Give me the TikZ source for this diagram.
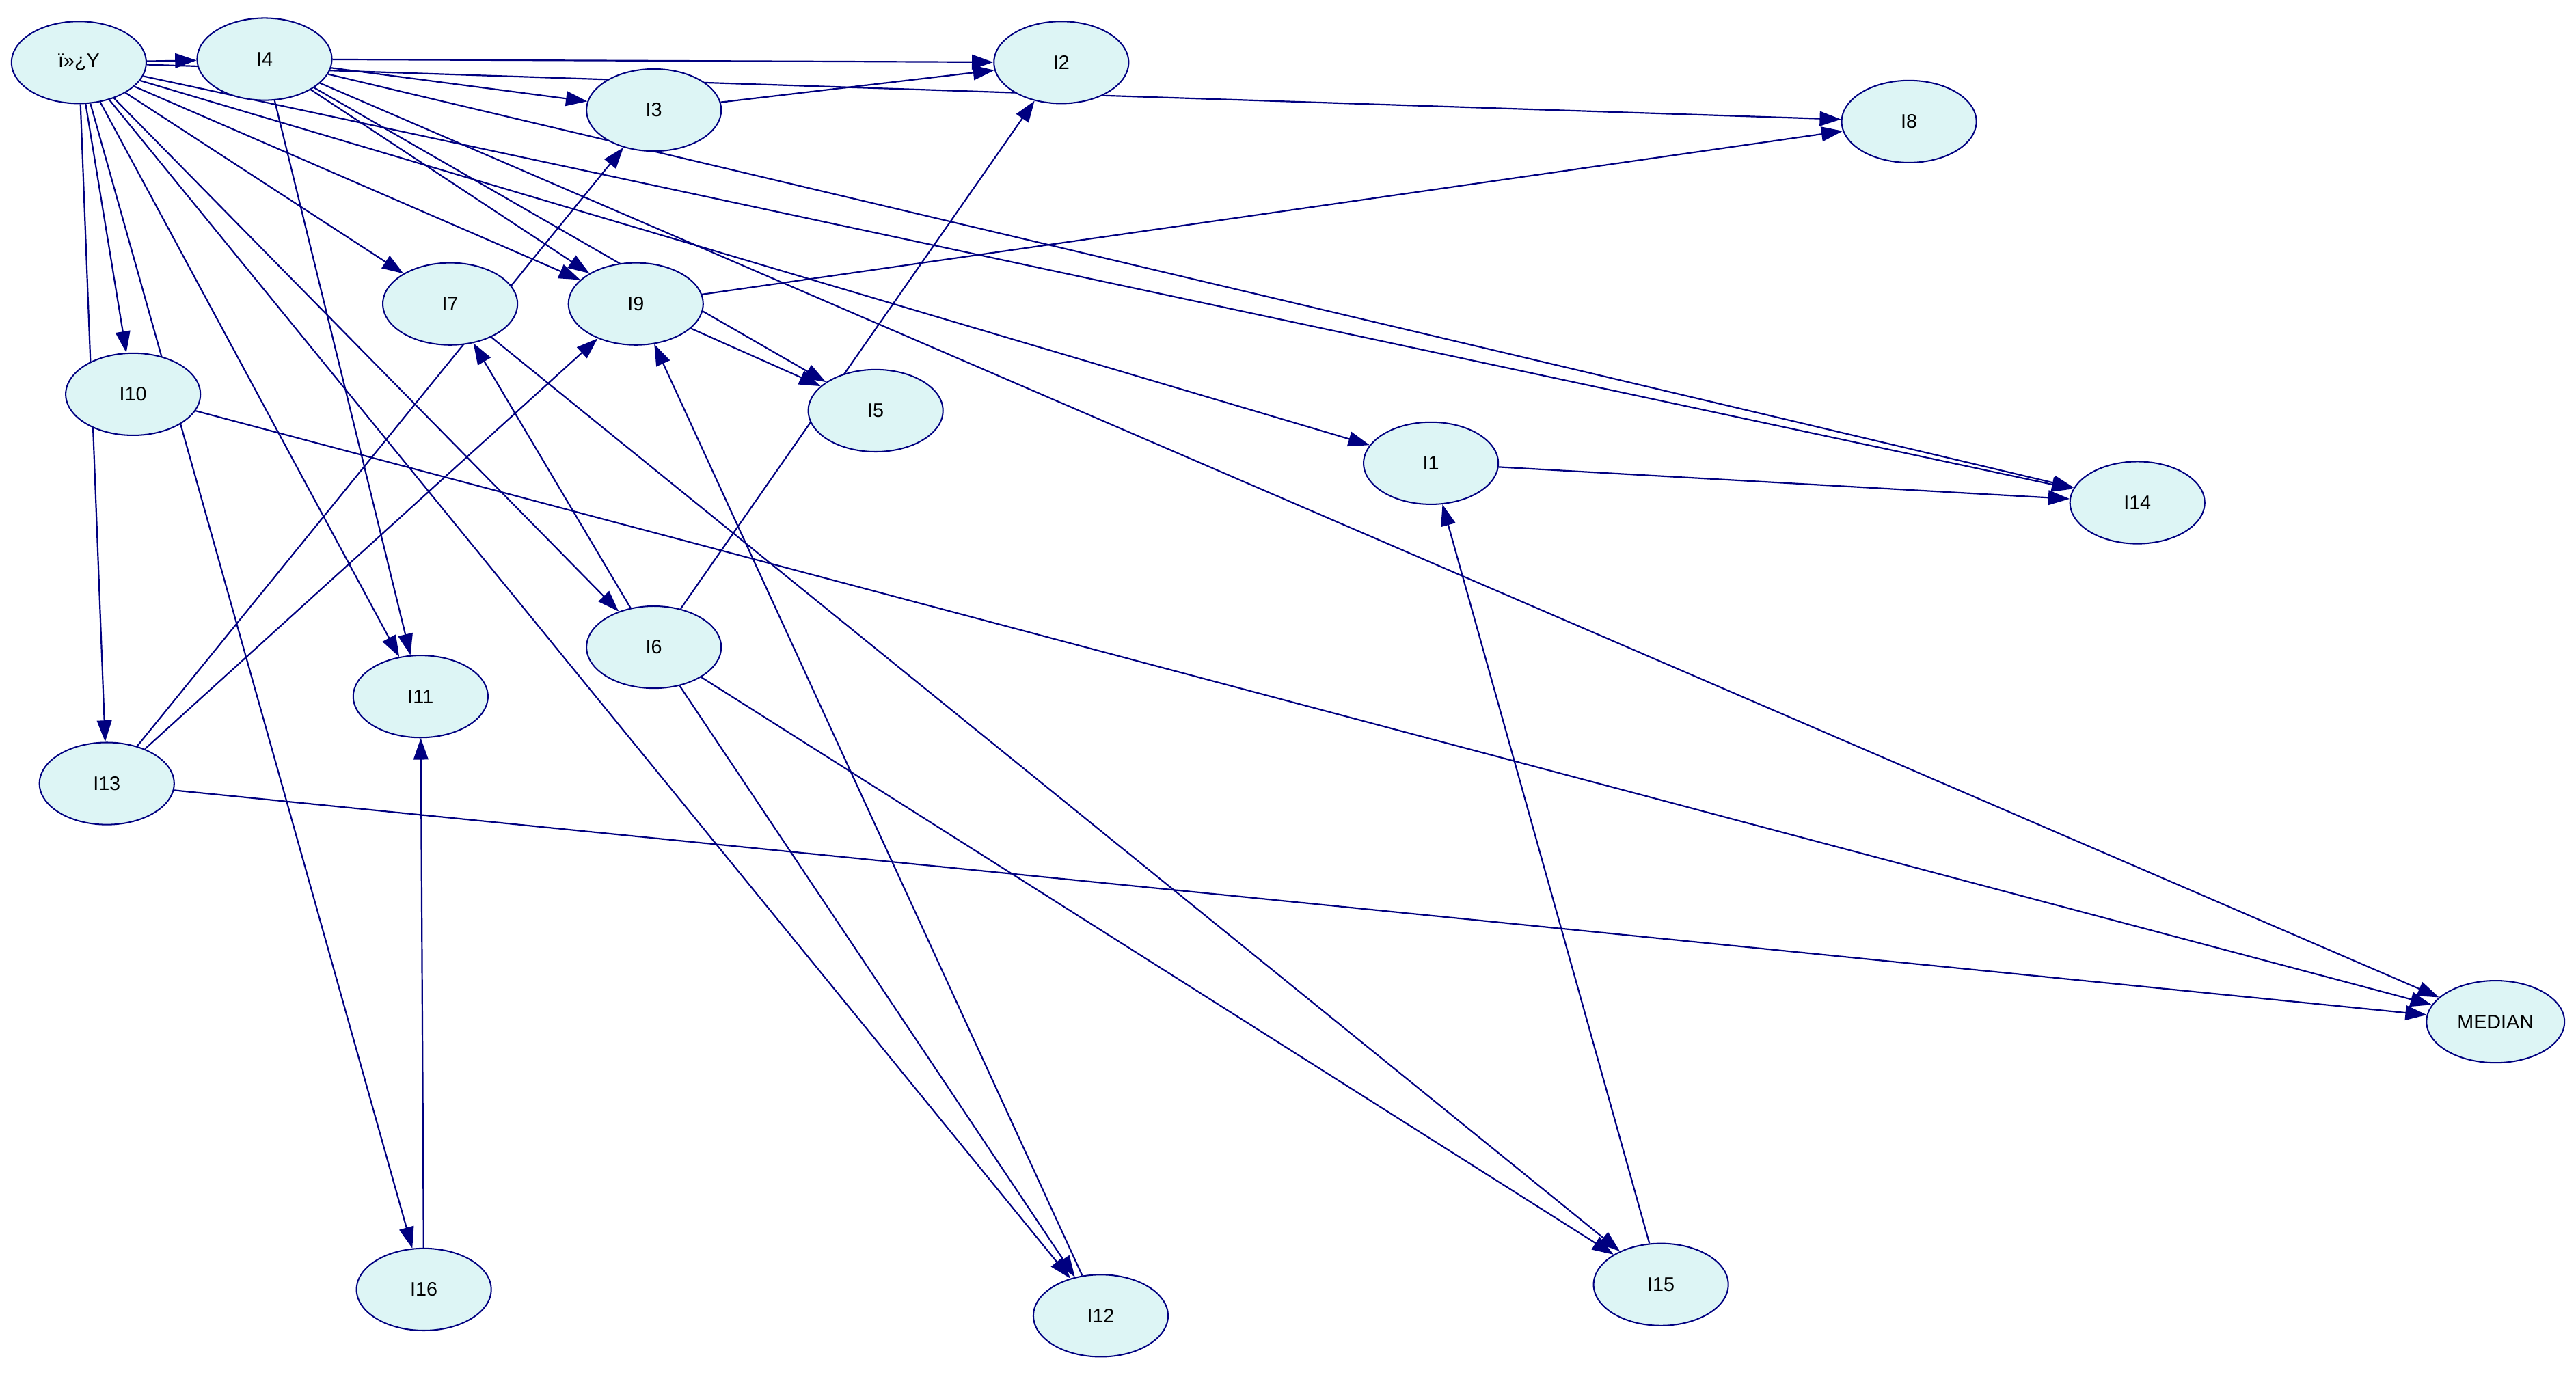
\documentclass[tikz,border=0pt]{standalone}
\usepackage{fontspec}
\setmainfont{Liberation Sans}
\usetikzlibrary{shapes.geometric,arrows.meta,backgrounds}
\definecolor{nv}{HTML}{000080}
\definecolor{nf}{HTML}{DDF5F5}
\begin{document}
\begin{tikzpicture}[x=0.05cm,y=-0.05cm,
  nd/.style={ellipse,draw=nv,fill=nf,line width=1.2pt,minimum width=4.1cm,minimum height=2.5cm,font=\fontsize{17}{19}\selectfont},
  ed/.style={draw=nv,line width=1.3pt,-{Triangle[length=0.65cm,width=0.45cm]}},
  pl/.style={draw=nv,line width=1.3pt}]
\useasboundingbox (0,0) rectangle (1568,838);
\node[nd] (Y) at (48,38) {ï»¿Y};
\node[nd] (I4) at (161,36) {I4};
\node[nd] (I2) at (646,38) {I2};
\node[nd] (I3) at (398,67) {I3};
\node[nd] (I8) at (1162,74) {I8};
\node[nd] (I7) at (274,185) {I7};
\node[nd] (I9) at (387,185) {I9};
\node[nd] (I10) at (81,240) {I10};
\node[nd] (I5) at (533,250) {I5};
\node[nd] (I1) at (871,282) {I1};
\node[nd] (I14) at (1301,306) {I14};
\node[nd] (I6) at (398,394) {I6};
\node[nd] (I11) at (256,424) {I11};
\node[nd] (I13) at (65,477) {I13};
\node[nd,minimum width=4.2cm] (MED) at (1519,622) {MEDIAN};
\node[nd] (I16) at (258,785) {I16};
\node[nd] (I12) at (670,801) {I12};
\node[nd] (I15) at (1011,782) {I15};
\begin{pgfonlayer}{background}
\foreach \a/\b in {Y/I4,Y/I8,Y/I10,Y/I13,Y/I16,Y/I11,Y/I12,Y/I6,Y/I7,Y/I9,Y/I1,Y/I14,
  I4/I2,I4/I3,I4/I9,I4/I5,I4/I11,I4/I14,I4/MED,I3/I2,I9/I8,I9/I5,I13/I3,I13/I9,
  I6/I2,I6/I7,I6/I12,I6/I15,I7/I15,I12/I9,I15/I1,I1/I14,I16/I11,I10/MED,I13/MED}
  \draw[ed] (\a) -- (\b);
\end{pgfonlayer}
\end{tikzpicture}
\end{document}
